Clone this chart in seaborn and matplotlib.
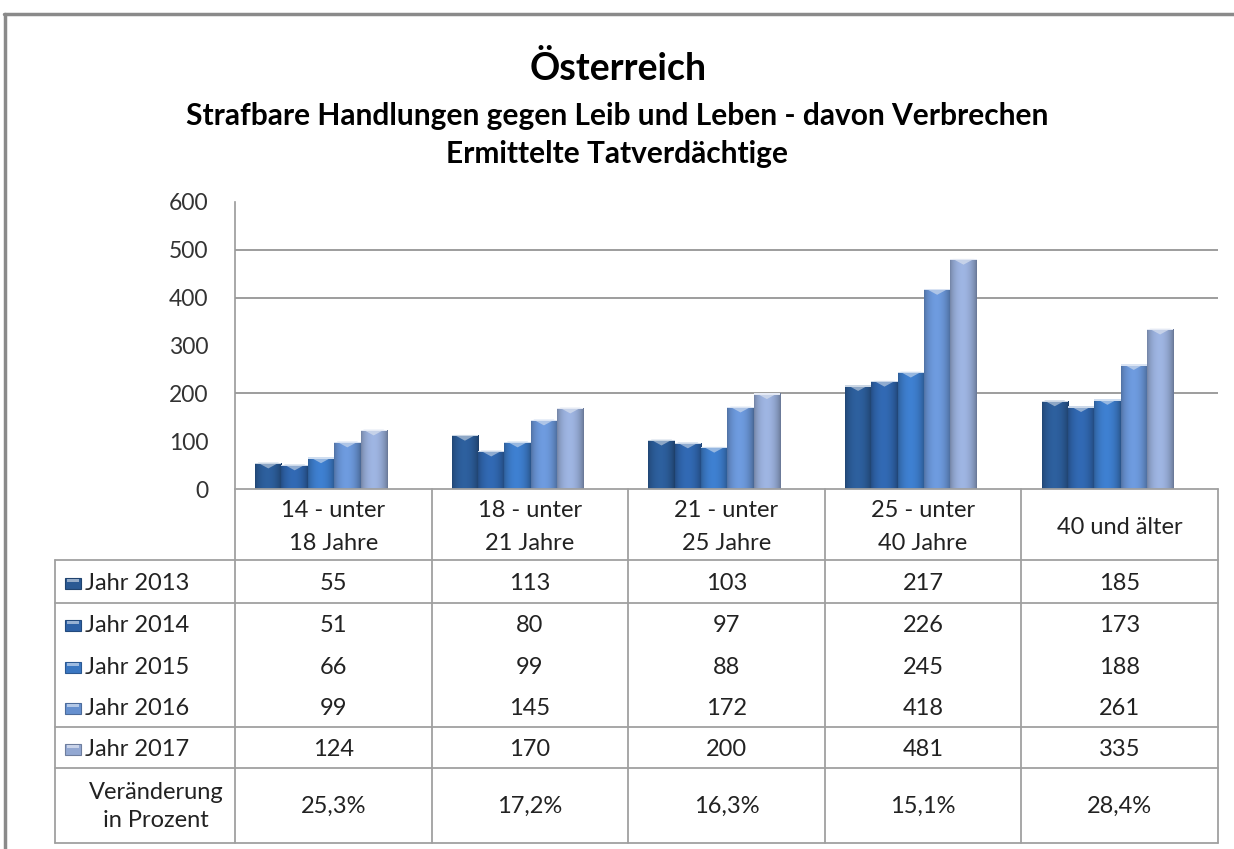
import numpy as np
import pandas as pd
import matplotlib
matplotlib.use("Agg")
import matplotlib.pyplot as plt
import seaborn as sns
from matplotlib.lines import Line2D
from matplotlib.patches import Rectangle
from matplotlib.colors import to_rgb

# ---- data -------------------------------------------------------------
title = "Österreich"
subtitle_1 = "Strafbare Handlungen gegen Leib und Leben - davon Verbrechen"
subtitle_2 = "Ermittelte Tatverdächtige"

age_groups = ["14 - unter\n18 Jahre", "18 - unter\n21 Jahre", "21 - unter\n25 Jahre",
              "25 - unter\n40 Jahre", "40 und älter"]
years = ["Jahr 2013", "Jahr 2014", "Jahr 2015", "Jahr 2016", "Jahr 2017"]

jahr_2013 = [55, 113, 103, 217, 185]
jahr_2014 = [51, 80, 97, 226, 173]
jahr_2015 = [66, 99, 88, 245, 188]
jahr_2016 = [99, 145, 172, 418, 261]
jahr_2017 = [124, 170, 200, 481, 335]

y_ticks = [0, 100, 200, 300, 400, 500, 600]
grid_levels = [200, 400, 500]
change_label = "Veränderung\nin Prozent"

series_colors = ["#2a5993", "#2e62a7", "#3a77c2", "#6690cf", "#93a8d2"]

series = [jahr_2013, jahr_2014, jahr_2015, jahr_2016, jahr_2017]
df = pd.DataFrame({
    "Altersgruppe": [g for _ in years for g in age_groups],
    "Jahr": [y for y in years for _ in age_groups],
    "Wert": [v for s in series for v in s],
})
# percentage change 2016 -> 2017
change = [f"{(b / a - 1) * 100:.1f}%".replace(".", ",") for a, b in zip(jahr_2016, jahr_2017)]

# ---- figure -----------------------------------------------------------
W, H = 1234, 849
sns.set_theme(style="white")
plt.rcParams["font.family"] = ["Lato", "DejaVu Sans"]

fig = plt.figure(figsize=(W / 100, H / 100), dpi=100)
fig.patch.set_facecolor("white")


def fx(x):
    return x / W


def fy(y):
    return 1 - y / H


# layout in pixels
ax_left, ax_right, ax_zero, ax_top = 235, 1218, 489, 202
group_step = (ax_right - ax_left) / 5.0
first_center = 321
TXT = 17
TXT_COLOR = "#222222"

ax = fig.add_axes([fx(ax_left), fy(ax_zero), fx(ax_right) - fx(ax_left), (ax_zero - ax_top) / H])
sns.barplot(data=df, x="Altersgruppe", y="Wert", hue="Jahr", palette=series_colors,
            saturation=1, width=0.67, gap=0, ax=ax, legend=False, errorbar=None,
            edgecolor="none", zorder=3)

# shaded bar faces: darker rims, lighter centre, light cap at the top
for bar in list(ax.patches):
    x0, w, h = bar.get_x(), bar.get_width(), bar.get_height()
    if h <= 0:
        continue
    base = np.array(bar.get_facecolor()[:3])
    t = np.linspace(0, 1, 64)
    shade = 0.78 + 0.34 * np.sin(np.pi * t) ** 0.7 - 0.08 * t
    img = np.clip(base[None, None, :] * shade[None, :, None], 0, 1)
    im = ax.imshow(img, extent=[x0, x0 + w, 0, h], aspect="auto", zorder=3.5,
                   interpolation="bilinear")
    im.set_clip_path(bar)
    cap_h = min(12.0, h * 0.5)
    light = np.clip(base + (1 - base) * 0.55, 0, 1)
    cap = plt.Polygon([[x0 + w * 0.1, h], [x0 + w * 0.9, h], [x0 + w * 0.5, h - cap_h]],
                      closed=True, facecolor=light, edgecolor="none", zorder=3.6, alpha=0.85)
    ax.add_patch(cap)
    ax.add_patch(Rectangle((x0, h - 3), w, 3, facecolor=np.clip(base + (1 - base) * 0.75, 0, 1),
                           edgecolor="none", zorder=3.7))

xmin = -(first_center - ax_left) / group_step
ax.set_xlim(xmin, xmin + (ax_right - ax_left) / group_step)
ax.set_ylim(0, 600)
ax.set_yticks(y_ticks)
ax.set_yticklabels([str(v) for v in y_ticks], fontsize=16.5, color="#333333")
ax.tick_params(axis="y", length=0, pad=19)
ax.set_xticks([])
ax.set_xlabel("")
ax.set_ylabel("")
for lvl in grid_levels:
    ax.axhline(lvl, color="#8c8c8c", lw=1.2, zorder=1)
for side in ["top", "right", "bottom"]:
    ax.spines[side].set_visible(False)
ax.spines["left"].set_color("#9a9a9a")
ax.spines["left"].set_linewidth(1.2)
ax.set_facecolor("none")

# ---- data table ---------------------------------------------------------
tab = fig.add_axes([0, 0, 1, 1])
tab.set_xlim(0, W)
tab.set_ylim(H, 0)
tab.axis("off")

line_kw = dict(color="#a0a0a0", lw=1.3)
col_edges = [ax_left + i * group_step for i in range(6)]
col_centers = [(a + b) / 2 for a, b in zip(col_edges[:-1], col_edges[1:])]
tab_left = 55
row_bounds = [560, 603, 644.3, 685.7, 727, 768]
change_bottom = 843

tab.plot([ax_left, ax_right], [ax_zero, ax_zero], **line_kw)
for y in [560, 603, 727, 768, change_bottom]:
    tab.plot([tab_left, ax_right], [y, y], **line_kw)
tab.plot([tab_left, tab_left], [560, change_bottom], **line_kw)
for x in col_edges:
    tab.plot([x, x], [ax_zero, change_bottom], **line_kw)

for label, cx in zip(age_groups, col_centers):
    tab.text(cx, 527, label, ha="center", va="center", fontsize=TXT, color=TXT_COLOR,
             linespacing=1.65)

for i, (name, vals, col) in enumerate(zip(years, series, series_colors)):
    cy = (row_bounds[i] + row_bounds[i + 1]) / 2 + 2
    c = np.array(to_rgb(col))
    tab.add_patch(Rectangle((65, cy - 5.5), 16, 11, facecolor=c,
                            edgecolor=np.clip(c * 0.75, 0, 1), lw=0.8))
    tab.add_patch(Rectangle((67, cy - 4.5), 12, 3, facecolor=np.clip(c + (1 - c) * 0.5, 0, 1),
                            edgecolor="none"))
    tab.text(85, cy, name, ha="left", va="center", fontsize=TXT, color=TXT_COLOR)
    for v, cx in zip(vals, col_centers):
        tab.text(cx, cy, str(v), ha="center", va="center", fontsize=TXT, color=TXT_COLOR)

cy = (768 + change_bottom) / 2 + 1
tab.text(156, cy, change_label, ha="center", va="center", fontsize=TXT, color=TXT_COLOR,
         linespacing=1.4)
for p, cx in zip(change, col_centers):
    tab.text(cx, cy, p, ha="center", va="center", fontsize=TXT, color=TXT_COLOR)

# ---- titles ---------------------------------------------------------------
tab.text(618, 68, title, ha="center", va="center", fontsize=27, fontweight="bold", color="black")
tab.text(617, 116, subtitle_1, ha="center", va="center", fontsize=21.5, fontweight="bold",
         color="black")
tab.text(617, 154, subtitle_2, ha="center", va="center", fontsize=21.5, fontweight="bold",
         color="black")

# ---- outer frame -----------------------------------------------------------
fig.add_artist(Line2D([fx(4), 1], [fy(14), fy(14)], color="#8a8a8a", lw=2.5))
fig.add_artist(Line2D([fx(5), fx(5)], [0, fy(14)], color="#8a8a8a", lw=2.5))

fig.savefig("out.png", dpi=100, facecolor="white")
